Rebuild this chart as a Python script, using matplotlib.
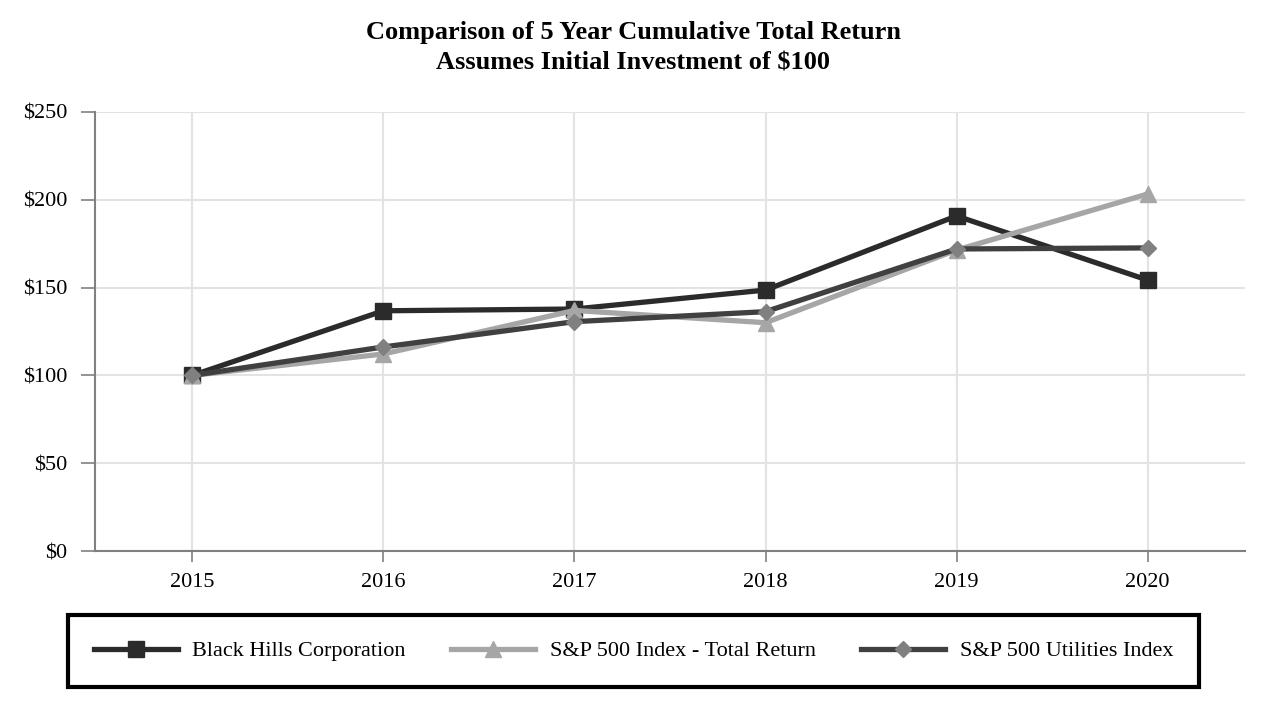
import matplotlib.pyplot as plt

years = ["2015", "2016", "2017", "2018", "2019", "2020"]
black_hills = [100, 136.8, 137.8, 148.6, 190.8, 154.3]
sp500_total = [100, 112.2, 137.0, 130.0, 171.4, 203.3]
sp500_util = [100, 116.2, 130.6, 136.3, 172.0, 172.6]

plt.rcParams['font.family'] = ['Liberation Serif', 'DejaVu Serif']

fig = plt.figure(figsize=(12.66, 7.08), dpi=100)
ax = fig.add_axes([95 / 1266, 1 - 551 / 708, 1150 / 1266, 439 / 708])

x = list(range(len(years)))
ax.plot(x, black_hills, color='#2b2b2b', lw=3.8, marker='s', ms=11,
        mfc='#2b2b2b', mec='#2b2b2b', label='Black Hills Corporation', zorder=3)
ax.plot(x, sp500_total, color='#a6a6a6', lw=3.8, marker='^', ms=11,
        mfc='#a6a6a6', mec='#a6a6a6', label='S&P 500 Index - Total Return', zorder=4)
ax.plot(x, sp500_util, color='#404040', lw=3.8, marker='D', ms=8,
        mfc='#808080', mec='#808080', label='S&P 500 Utilities Index', zorder=5)

ax.set_xlim(-0.51, 5.51)
ax.set_ylim(0, 250)
ax.set_xticks(x)
ax.set_xticklabels(years)
ax.set_yticks([0, 50, 100, 150, 200, 250])
ax.set_yticklabels(['$0', '$50', '$100', '$150', '$200', '$250'])
ax.grid(True, color='#e3e3e3', lw=1.5)
ax.set_axisbelow(True)
for s in ['top', 'right']:
    ax.spines[s].set_visible(False)
for s in ['left', 'bottom']:
    ax.spines[s].set_color('#808080')
    ax.spines[s].set_linewidth(1.5)
ax.tick_params(axis='y', length=10, width=1.2, color='#808080', labelsize=16, pad=10)
ax.tick_params(axis='x', length=8, width=1.2, color='#808080', labelsize=16, pad=8)

fig.text(0.5, 1 - 32 / 708, 'Comparison of 5 Year Cumulative Total Return',
         ha='center', va='center', fontsize=19, fontweight='bold')
fig.text(0.5, 1 - 63 / 708, 'Assumes Initial Investment of $100',
         ha='center', va='center', fontsize=19, fontweight='bold')

leg = fig.legend(loc='center', ncol=3, mode='expand', borderaxespad=0,
                 bbox_to_anchor=(68 / 1266, 1 - 693 / 708, 1131 / 1266, 76 / 708),
                 fontsize=16, frameon=True, fancybox=False, framealpha=1,
                 handlelength=3.8, borderpad=1.15, handletextpad=0.65,
                 columnspacing=2.5)
leg.get_frame().set_edgecolor('black')
leg.get_frame().set_linewidth(3)
# keep the frame where the reference box sits while text sits a bit lower
leg.set_bbox_to_anchor((68 / 1266, 1 - 689 / 708, 1131 / 1266, 76 / 708), transform=fig.transFigure)

fig.savefig('out.png', dpi=100)
